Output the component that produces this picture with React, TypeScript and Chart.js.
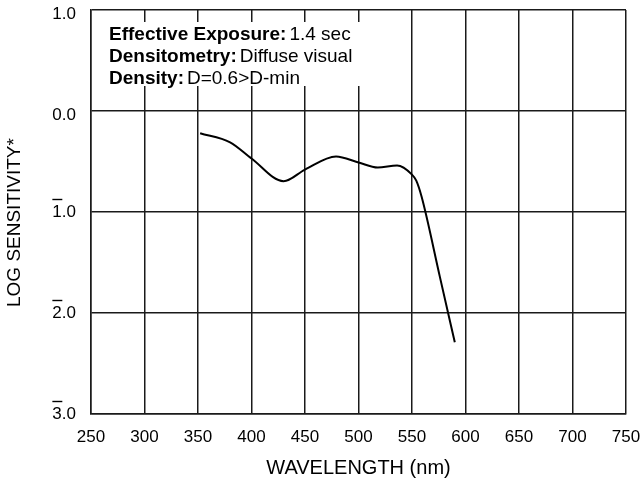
import React, { useEffect, useRef } from 'react';
import { Chart, registerables } from 'chart.js';

Chart.register(...registerables);

// ---- data ----
const wavelengths = [352, 380, 400, 430, 450, 479, 500, 518, 536, 550, 554, 559, 576, 590];
const logSensitivity = [-0.22, -0.31, -0.47, -0.695, -0.58, -0.45, -0.51, -0.56, -0.54, -0.63, -0.69, -0.85, -1.64, -2.29];
const xMin = 250;
const xMax = 750;
const xStep = 50;
const yMin = -3;
const yMax = 1;
const yStep = 1;
const infoLabels = ['Effective Exposure:', 'Densitometry:', 'Density:'];
const infoValues = ['1.4 sec', 'Diffuse visual', 'D=0.6>D-min'];
const xTitle = 'WAVELENGTH (nm)';
const yTitle = 'LOG SENSITIVITY*';

const FAMILY = "'Liberation Sans', Arial, Helvetica, sans-serif";
const TICK_SIZE = 17;
const INFO_SIZE = 19;
const INK = '#000';
const GRID = '#1a1a1a';

const overbarPlugin = {
  id: 'overbars',
  afterDraw(chart: any) {
    const ys = chart.scales.y;
    const ctx = chart.ctx;
    ctx.save();
    ctx.font = `${TICK_SIZE}px ${FAMILY}`;
    ctx.strokeStyle = INK;
    ctx.lineWidth = 1.4;
    const rightX = chart.chartArea.left - 15;
    ys.ticks.forEach((t: any) => {
      if (t.value < 0) {
        const txt = Math.abs(t.value).toFixed(1);
        const w = ctx.measureText(txt).width;
        const w1 = ctx.measureText(txt[0]).width;
        const x0 = rightX - w;
        const y = Math.round(ys.getPixelForValue(t.value) - 13.5) + 0.5;
        ctx.beginPath();
        ctx.moveTo(x0, y);
        ctx.lineTo(x0 + w1 + 0.5, y);
        ctx.stroke();
      }
    });
    ctx.restore();
  },
};

const infoBoxPlugin = {
  id: 'infoBox',
  beforeDatasetsDraw(chart: any) {
    const { ctx, chartArea } = chart;
    const bx = chartArea.left + 1;
    const by = chartArea.top + 12;
    ctx.save();
    ctx.fillStyle = '#fff';
    ctx.fillRect(bx, by, 273, 64);
    ctx.fillStyle = INK;
    ctx.textBaseline = 'alphabetic';
    ctx.textAlign = 'left';
    const tx = chartArea.left + 18;
    const baselines = [40, 62, 83.5];
    infoLabels.forEach((lab, i) => {
      ctx.font = `bold ${INFO_SIZE}px ${FAMILY}`;
      ctx.fillText(lab, tx, chartArea.top + baselines[i] - 10);
      const w = ctx.measureText(lab).width;
      ctx.font = `${INFO_SIZE}px ${FAMILY}`;
      ctx.fillText(infoValues[i], tx + w + 3, chartArea.top + baselines[i] - 10);
    });
    ctx.restore();
  },
};

export default function App() {
  const ref = useRef<HTMLCanvasElement | null>(null);
  useEffect(() => {
    if (!ref.current) return;
    const chart = new Chart(ref.current, {
      type: 'line',
      data: {
        datasets: [
          {
            data: wavelengths.map((w, i) => ({ x: w, y: logSensitivity[i] })),
            borderColor: INK,
            borderWidth: 2,
            pointRadius: 0,
            fill: false,
            cubicInterpolationMode: 'monotone',
          },
        ],
      },
      options: {
        responsive: false,
        animation: false,
        devicePixelRatio: 1,
        layout: { padding: { left: 0, right: 17, top: 10, bottom: 0 } },
        plugins: { legend: { display: false }, tooltip: { enabled: false } },
        scales: {
          x: {
            type: 'linear',
            min: xMin,
            max: xMax,
            afterFit: (s: any) => {
              s.height = 69;
              s.paddingLeft = 0;
              s.paddingRight = 0;
            },
            ticks: {
              stepSize: xStep,
              padding: 13,
              color: INK,
              font: { family: FAMILY, size: TICK_SIZE },
              maxRotation: 0,
            },
            grid: { color: GRID, lineWidth: 1.5, drawTicks: false },
            border: { color: GRID, width: 1.5 },
            title: {
              display: true,
              text: xTitle,
              color: INK,
              font: { family: FAMILY, size: 20 },
              padding: { top: 0, bottom: 3 },
            },
          },
          y: {
            type: 'linear',
            min: yMin,
            max: yMax,
            afterFit: (s: any) => {
              s.width = 91;
              s.paddingTop = 0;
              s.paddingBottom = 0;
            },
            ticks: {
              stepSize: yStep,
              padding: 15,
              color: INK,
              font: (c: any) => ({
                family: FAMILY,
                size: TICK_SIZE,
                lineHeight: c.tick && c.tick.value >= 0 ? '9px' : 1.2,
              }),
              callback: (v: any) => {
                const n = Number(v);
                const s = Math.abs(n).toFixed(1);
                return n >= 0 ? ['', s] : s;
              },
            },
            grid: { color: GRID, lineWidth: 1.5, drawTicks: false },
            border: { color: GRID, width: 1.5 },
            title: {
              display: true,
              text: yTitle + '    ',
              color: INK,
              font: { family: FAMILY, size: 19 },
              padding: { top: 3, bottom: 0 },
            },
          },
        },
      },
      plugins: [infoBoxPlugin, overbarPlugin],
    } as any);
    return () => chart.destroy();
  }, []);
  return (
    <div style={{ position: 'absolute', left: 0, top: 0, width: 643, height: 483, background: '#fff' }}>
      <canvas ref={ref} width={643} height={483} />
    </div>
  );
}
